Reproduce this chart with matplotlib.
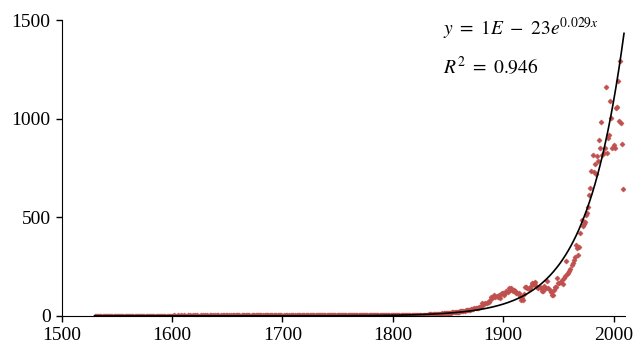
import matplotlib
matplotlib.use("Agg")
import matplotlib.pyplot as plt
import numpy as np

plt.rcParams['font.family'] = ['Liberation Serif', 'DejaVu Serif']
plt.rcParams['mathtext.fontset'] = 'stix'

# one value per year, 1530 .. 2009 (rows of ten years)
first_year = 1530
values = [
    1, 2, 1, 1, 2, 1, 2, 1, 1, 2,          # 1530s
    2, 1, 1, 2, 1, 2, 2, 1, 1, 2,          # 1540s
    1, 2, 2, 1, 2, 1, 2, 2, 1, 2,          # 1550s
    2, 1, 2, 2, 1, 2, 1, 2, 2, 1,          # 1560s
    2, 2, 1, 2, 2, 1, 2, 2, 2, 1,          # 1570s
    2, 1, 2, 2, 2, 1, 2, 2, 1, 2,          # 1580s
    2, 2, 1, 2, 2, 2, 1, 2, 2, 2,          # 1590s
    2, 2, 3, 2, 2, 3, 2, 2, 3, 2,          # 1600s
    2, 3, 2, 2, 3, 2, 3, 2, 2, 3,          # 1610s
    2, 3, 2, 3, 2, 2, 3, 2, 3, 2,          # 1620s
    3, 2, 3, 2, 3, 3, 2, 3, 2, 3,          # 1630s
    2, 3, 3, 2, 3, 2, 3, 3, 2, 3,          # 1640s
    3, 2, 3, 3, 2, 3, 3, 2, 3, 3,          # 1650s
    3, 3, 2, 3, 3, 3, 2, 3, 3, 3,          # 1660s
    3, 2, 3, 3, 3, 2, 3, 3, 3, 3,          # 1670s
    3, 3, 3, 2, 3, 3, 3, 3, 2, 3,          # 1680s
    3, 3, 3, 3, 3, 2, 3, 3, 3, 3,          # 1690s
    2, 3, 2, 3, 3, 2, 3, 2, 3, 3,          # 1700s
    3, 3, 2, 3, 3, 3, 3, 2, 3, 3,          # 1710s
    3, 3, 3, 3, 2, 3, 3, 3, 3, 3,          # 1720s
    3, 3, 3, 4, 3, 3, 3, 3, 4, 3,          # 1730s
    3, 4, 3, 3, 3, 4, 3, 3, 4, 3,          # 1740s
    3, 4, 3, 4, 3, 3, 4, 3, 4, 4,          # 1750s
    3, 4, 4, 3, 4, 4, 3, 4, 4, 4,          # 1760s
    4, 4, 3, 4, 4, 4, 4, 3, 4, 4,          # 1770s
    4, 4, 4, 4, 3, 4, 4, 4, 4, 4,          # 1780s
    4, 4, 4, 5, 4, 4, 4, 5, 4, 4,          # 1790s
    4, 4, 5, 4, 4, 5, 4, 5, 4, 5,          # 1800s
    4, 5, 5, 4, 5, 5, 5, 4, 5, 5,          # 1810s
    4, 5, 5, 5, 6, 5, 6, 6, 7, 6,          # 1820s
    6, 7, 7, 8, 8, 8, 9, 9, 10, 9,         # 1830s
    9, 10, 10, 11, 12, 13, 14, 15, 17, 15,  # 1840s
    14, 15, 16, 17, 18, 19, 20, 22, 21, 22,  # 1850s
    22, 24, 23, 25, 26, 27, 30, 28, 29, 30,  # 1860s
    30, 34, 34, 36, 38, 40, 39, 42, 47, 45,  # 1870s
    47, 64, 58, 62, 66, 64, 73, 70, 80, 98,  # 1880s
    90, 95, 106, 95, 100, 98, 106, 90, 110, 115,  # 1890s
    115, 106, 118, 125, 123, 140, 130, 140, 132, 128,  # 1900s
    132, 125, 118, 115, 115, 100, 81, 90, 81, 110,  # 1910s
    148, 148, 140, 135, 140, 150, 165, 160, 166, 174,  # 1920s
    150, 145, 140, 148, 140, 128, 128, 152, 140, 140,  # 1930s
    179, 140, 132, 123, 106, 106, 132, 145, 148, 191,  # 1940s
    166, 166, 174, 182, 162, 190, 200, 279, 213, 219,  # 1950s
    230, 237, 258, 267, 284, 300, 360, 343, 309, 351,  # 1960s
    422, 486, 457, 466, 478, 513, 520, 554, 613, 650,  # 1970s
    735, 816, 731, 773, 719, 812, 784, 895, 850, 985,  # 1980s
    816, 827, 850, 1162, 827, 903, 917, 1089, 1005, 850,  # 1990s
    866, 850, 1055, 1060, 1190, 988, 1292, 981, 871, 643,  # 2000s
]
years = np.arange(first_year, first_year + len(values))

# exponential trendline  y = a * exp(b x)
trend_b = 0.029
trend_end = 2009.5
trend_top = 1434
trend_a = trend_top / np.exp(trend_b * trend_end)

fig = plt.figure(figsize=(6.36, 3.51), dpi=100)
ax = fig.add_axes([0.097, 0.1, 0.885, 0.842])

ax.plot(years, values, linestyle='none', marker='D', markersize=2.6,
        color='#c0504d', markeredgewidth=0.4, zorder=2)

tx = np.linspace(first_year, trend_end, 400)
ax.plot(tx, trend_a * np.exp(trend_b * tx), color='black', linewidth=1.2, zorder=3)

ax.set_xlim(1500, 2010)
ax.set_ylim(0, 1500)
ax.set_xticks(np.arange(1500, 2001, 100))
ax.set_yticks([0, 500, 1000, 1500])
ax.spines['top'].set_visible(False)
ax.spines['right'].set_visible(False)
ax.tick_params(direction='out', length=4, width=1, labelsize=14, pad=4)

ax.text(0.677, 0.972, r"$y\ =\ 1E\ -\ 23e^{0.029x}$", transform=ax.transAxes,
        fontsize=14, va='center', ha='left')
ax.text(0.677, 0.842, r"$R^2\ =\ 0.946$", transform=ax.transAxes,
        fontsize=14, va='center', ha='left')

fig.savefig("out.png", dpi=100)
